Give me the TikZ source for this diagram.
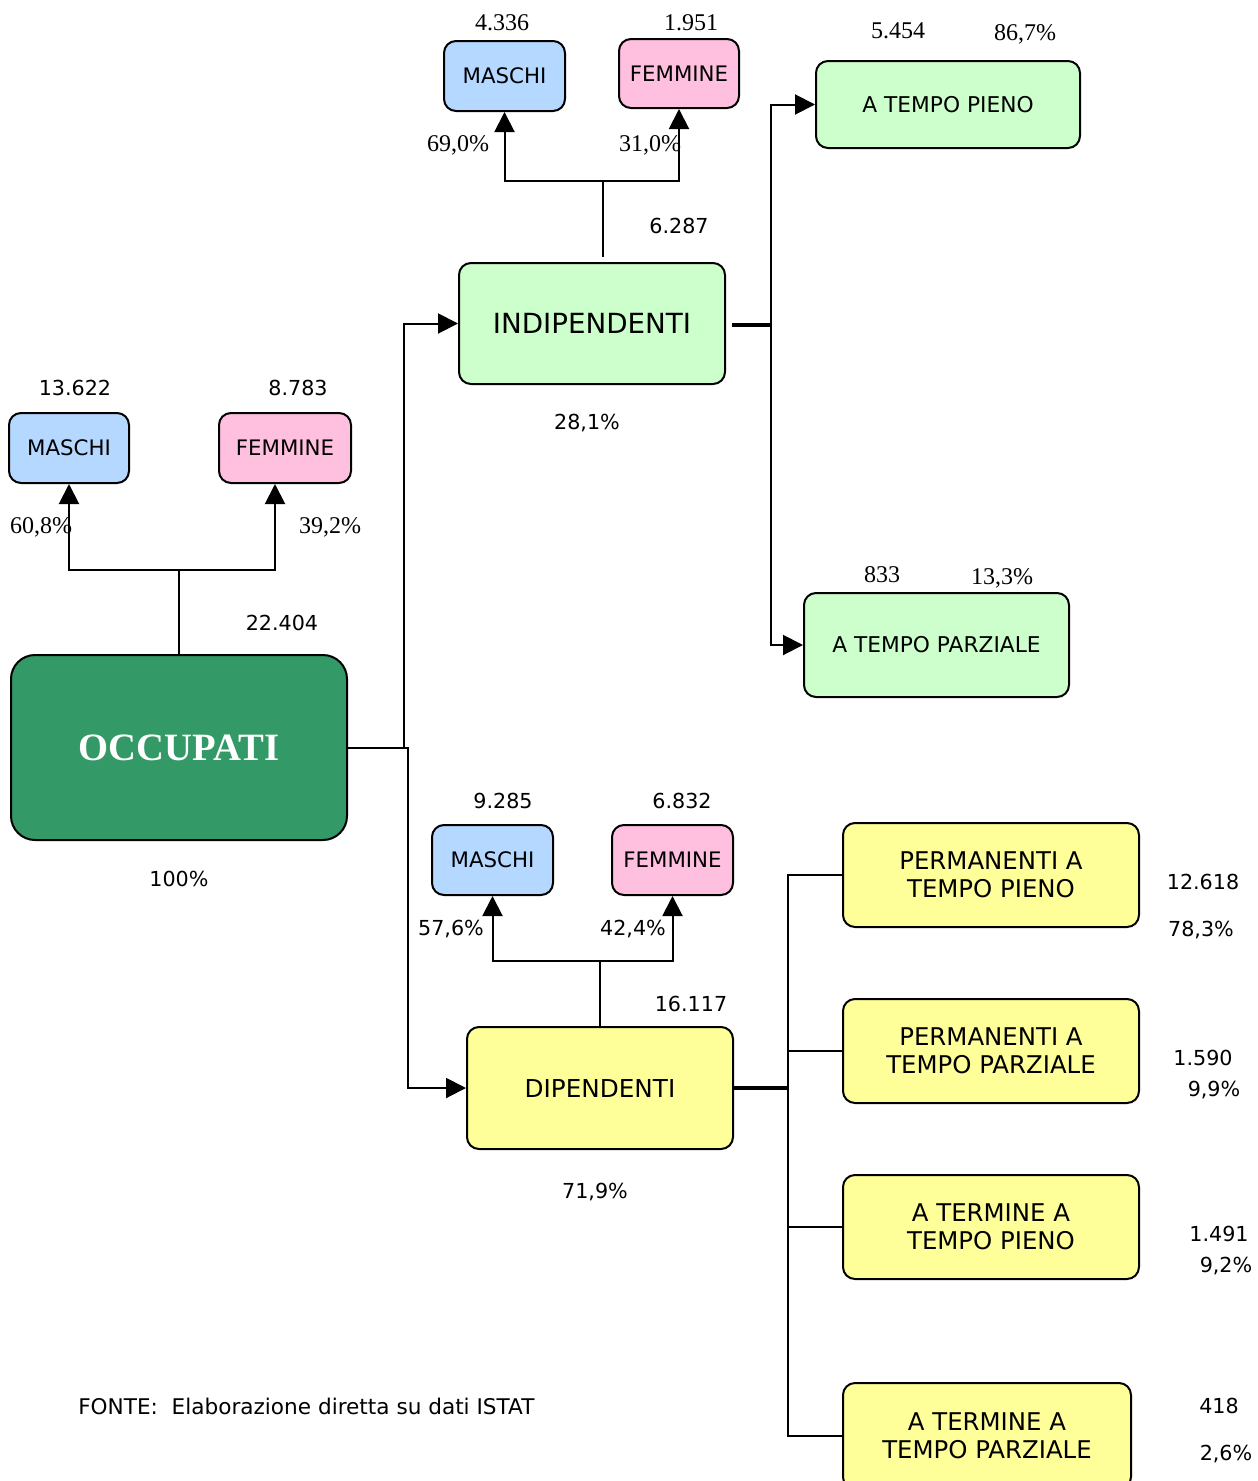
\documentclass[tikz,border=0pt]{standalone}
\usepackage{fontspec}
\setmainfont{Liberation Serif}
\setsansfont{DejaVu Sans}
\usetikzlibrary{arrows.meta}
\definecolor{occ}{RGB}{51,153,102}
\definecolor{lgreen}{RGB}{204,255,204}
\definecolor{yel}{RGB}{255,255,153}
\definecolor{mblue}{RGB}{180,216,255}
\definecolor{fpink}{RGB}{255,192,224}
\tikzset{
  box/.style={draw=black, line width=1.5pt, rounded corners=9pt, inner sep=0pt, align=center,
    font=\sffamily\fontsize{16}{19}\selectfont},
  gbox/.style={box, minimum width=90.75pt, minimum height=52.5pt},
  tbox/.style={box, fill=lgreen, font=\sffamily\fontsize{16.3}{19}\selectfont},
  ybox/.style={box, fill=yel, minimum width=222pt, minimum height=78pt,
    font=\sffamily\fontsize{18.3}{21}\selectfont},
  num/.style={font=\sffamily\fontsize{15.5}{18}\selectfont, inner sep=0pt},
  snum/.style={font=\fontsize{18}{20}\selectfont, inner sep=0pt},
  conn/.style={line width=1.5pt},
  tconn/.style={line width=2.5pt},
  arr/.style={conn, -{Triangle[length=15pt,width=15pt]}}
}
\begin{document}
\begin{tikzpicture}[x=0.75pt,y=-0.75pt]
\path[use as bounding box, clip] (0,0) rectangle (1257,1481);
\fill[white] (0,0) rectangle (1257,1481);

% main boxes
\node[box, fill=occ, rounded corners=18pt, minimum width=252pt, minimum height=138.75pt, text=white,
  font=\bfseries\fontsize{29}{32}\selectfont] (occ) at (179,747.5) {OCCUPATI};
\node[gbox, fill=mblue, minimum width=90pt] (m1) at (69,448) {MASCHI};
\node[gbox, fill=fpink, minimum width=99pt] (f1) at (285,448) {FEMMINE};

\node[box, fill=lgreen, minimum width=199.5pt, minimum height=90.75pt,
  font=\sffamily\fontsize{20.8}{24}\selectfont] (ind) at (592,323.5) {INDIPENDENTI};
\node[gbox, fill=mblue] (m2) at (504.5,76) {MASCHI};
\node[gbox, fill=fpink, minimum width=90pt, minimum height=51.75pt] (f2) at (679,73.5) {FEMMINE};
\node[tbox, minimum width=198pt, minimum height=65.25pt] (tp) at (948,104.5) {A TEMPO PIENO};
\node[tbox, minimum width=198.75pt, minimum height=78pt] (tpa) at (936.5,645) {A TEMPO PARZIALE};

\node[box, fill=yel, minimum width=199.5pt, minimum height=91.5pt,
  font=\sffamily\fontsize{18.5}{22}\selectfont] (dip) at (600,1088) {DIPENDENTI};
\node[gbox, fill=mblue] (m3) at (492.5,860) {MASCHI};
\node[gbox, fill=fpink] (f3) at (672.5,860) {FEMMINE};
\node[ybox] (y1) at (991,875) {PERMANENTI A\\TEMPO PIENO};
\node[ybox] (y2) at (991,1051) {PERMANENTI A\\TEMPO PARZIALE};
\node[ybox] (y3) at (991,1227) {A TERMINE A\\TEMPO PIENO};
\node[ybox, minimum width=216pt, minimum height=79.5pt] (y4) at (987,1436) {A TERMINE A\\TEMPO PARZIALE};

% connectors: occupati
\coordinate (j1) at (179,570);
\draw[conn] (occ.north) -- (j1);
\draw[arr] (j1) -| (m1.south);
\draw[arr] (j1) -| ([xshift=-7.5pt]f1.south);
\draw[arr] (occ.east) -- ++(56,0) |- (ind.west);
\draw[arr] (occ.east) -- ++(60,0) |- (dip.west);

% indipendenti
\coordinate (j2) at (603,181);
\draw[conn] ([xshift=8.25pt,yshift=4pt]ind.north) -- (j2);
\draw[arr] (j2) -| (m2.south);
\draw[arr] (j2) -| (f2.south);
\coordinate (j4) at (771,325);
\draw[tconn] ([xshift=4.5pt]ind.east |- j4) -- (j4);
\draw[arr] (j4) |- (tp.west);
\draw[arr] (j4) |- (tpa.west);

% dipendenti
\coordinate (j3) at (600,961);
\draw[conn] (dip.north) -- (j3);
\draw[arr] (j3) -| (m3.south);
\draw[arr] (j3) -| (f3.south);
\coordinate (j5) at (788,1088);
\draw[tconn] (dip.east) -- (j5);
\draw[conn] (j5) |- (y1.west);
\draw[conn] (j5) |- (y2.west);
\draw[conn] (j5) |- (y3.west);
\draw[conn] (j5) |- (y4.west);

% labels
\node[num] (l1) at (75,388) {13.622};
\node[num] (l2) at (298,388) {8.783};
\node[snum] (l3) at (41,527) {60,8\%};
\node[snum] (l4) at (330,527) {39,2\%};
\node[num] (l5) at (282,623) {22.404};
\node[num] (l6) at (179,879) {100\%};

\node[snum] (l7) at (502,23) {4.336};
\node[snum] (l8) at (691,23) {1.951};
\node[snum] (l9) at (458,145) {69,0\%};
\node[snum] (l10) at (650,145) {31,0\%};
\node[num] (l11) at (679,226) {6.287};
\node[num] (l12) at (587,423) {28,1\%};
\node[snum] (l13) at (898,31) {5.454};
\node[snum] (l14) at (1025,34) {86,7\%};
\node[snum] (l15) at (882,575) {833};
\node[snum] (l16) at (1002,578) {13,3\%};

\node[num] (l17) at (503,801) {9.285};
\node[num] (l18) at (682,801) {6.832};
\node[num] (l19) at (451,929) {57,6\%};
\node[num] (l20) at (633,929) {42,4\%};
\node[num] (l21) at (691,1004) {16.117};
\node[num] (l22) at (595,1192) {71,9\%};

\node[num] (l23) at (1203,882) {12.618};
\node[num] (l24) at (1201,930) {78,3\%};
\node[num] (l25) at (1203,1058) {1.590};
\node[num] (l26) at (1214,1090) {9,9\%};
\node[num] (l27) at (1219,1234) {1.491};
\node[num] (l28) at (1226,1266) {9,2\%};
\node[num] (l29) at (1219,1406) {418};
\node[num] (l30) at (1226,1454) {2,6\%};

\node[num, anchor=west, font=\sffamily\fontsize{16.2}{19}\selectfont] (fonte) at (78,1406) {FONTE:~~Elaborazione diretta su dati ISTAT};
\end{tikzpicture}
\end{document}
